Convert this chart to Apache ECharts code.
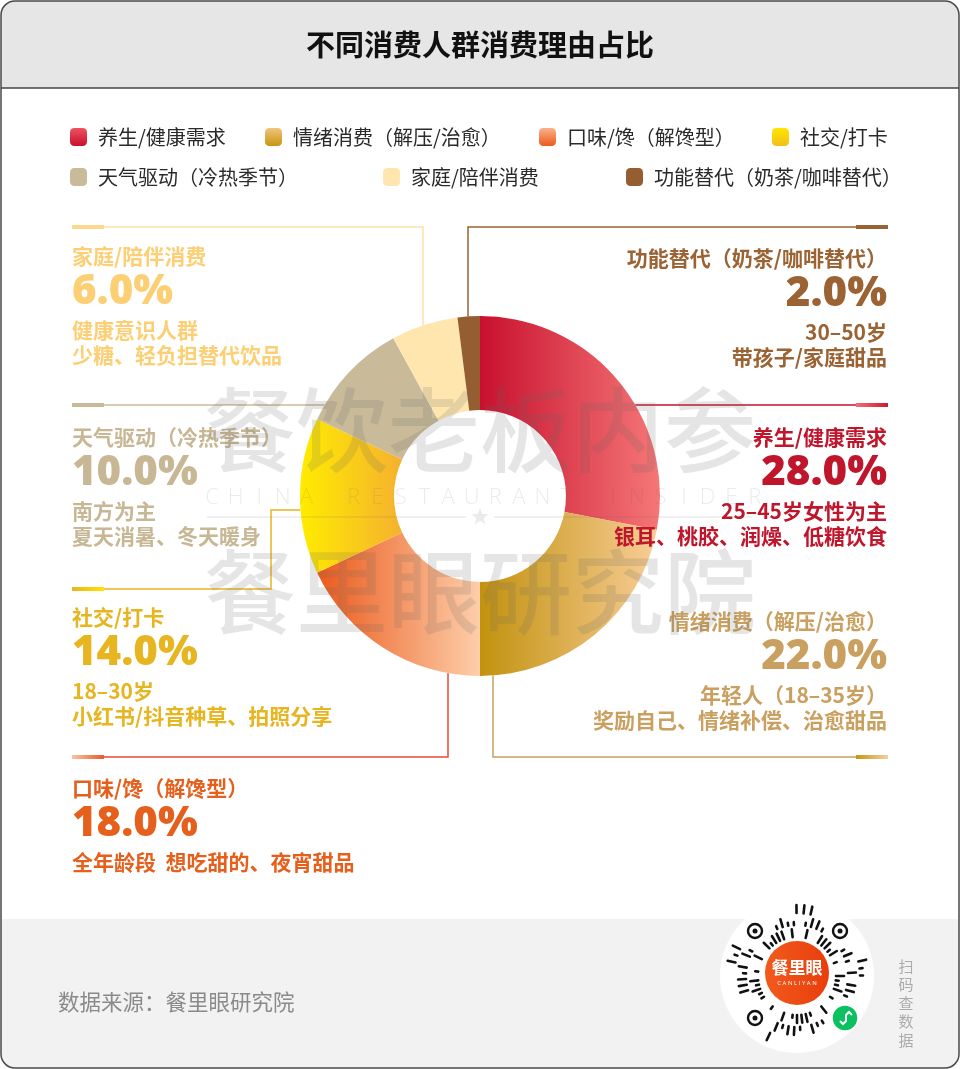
<!DOCTYPE html>
<html>
<head>
<meta charset="utf-8">
<script src="https://cdn.jsdelivr.net/npm/echarts@6/dist/echarts.min.js"></script>
<style>html,body{margin:0;padding:0;background:#fff}#c{width:960px;height:1069px}</style>
</head>
<body>
<div id="c"></div>
<script>
// ---------- data ----------
const chartTitle = '不同消费人群消费理由占比';
const sourceText = '数据来源：餐里眼研究院';
const categories = ['养生/健康需求', '情绪消费（解压/治愈）', '口味/馋（解馋型）', '社交/打卡', '天气驱动（冷热季节）', '家庭/陪伴消费', '功能替代（奶茶/咖啡替代）'];
const values = [28, 22, 18, 14, 10, 6, 2];
const noteLine1 = ['25–45岁女性为主', '年轻人（18–35岁）', '全年龄段  想吃甜的、夜宵甜品', '18–30岁', '南方为主', '健康意识人群', '30–50岁'];
const noteLine2 = ['银耳、桃胶、润燥、低糖饮食', '奖励自己、情绪补偿、治愈甜品', '', '小红书/抖音种草、拍照分享', '夏天消暑、冬天暖身', '少糖、轻负担替代饮品', '带孩子/家庭甜品'];
const wmTop = '餐饮老板内参';
const wmMid = 'CHINA RESTAURANT INSIDER';
const wmBottom = '餐里眼研究院';
const qrHint = '扫码查数据';

// ---------- styles / layout ----------
const CX = 480, CY = 496, R0 = 86, R1 = 180;
const CJK = '"Noto Sans CJK SC", "Noto Sans", sans-serif';
const NUM = '"Open Sans", "Noto Sans", sans-serif';
const sliceGrad = [['#C8102E', '#F57777'], ['#C2920E', '#F8CD97'], ['#EB5A1C', '#FDCEAA'], ['#FFEC00', '#F5B12F'], ['#C9BB99', '#C9BB99'], ['#FEE6AE', '#FEE6AE'], ['#955E30', '#955E30']];
const iconGrad = [['#EE5260', '#C8102E'], ['#EFC47E', '#C8960F'], ['#FBB28A', '#EB5A1C'], ['#FFE600', '#F2BE1A'], ['#C9BB99', '#C9BB99'], ['#FEE6AE', '#FEE6AE'], ['#955E30', '#955E30']];
const textColor = ['#C0162C', '#C9A060', '#E5601C', '#E6B520', '#C8B794', '#FDCF74', '#9B6334'];
const lineColor = ['#C8102E', '#C9A060', '#E84A3C', '#E6B520', '#C9BB99', '#FDE2A6', '#9A6233'];
const thickGrad = [['#F07078', '#CC1A30'], ['#C8960F', '#F5D0A0'], ['#FAC3A0', '#EA5A2A'], ['#E6B520', '#FFE500'], ['#C9BB99', '#C9BB99'], ['#FDD78C', '#FDD78C'], ['#9A6233', '#9A6233']];
const legendPos = [[70, 136], [265, 136], [539, 136], [772, 136], [70, 176], [383, 176], [626, 176]];

function lin(c1, c2, vertical) {
  return { type: 'linear', x: 0, y: 0, x2: vertical ? 0 : 1, y2: vertical ? 1 : 0, colorStops: [{ offset: 0, color: c1 }, { offset: 1, color: c2 }] };
}
const hitX = (y, sign) => CX + sign * Math.sqrt(R1 * R1 - (y - CY) * (y - CY));
const hitY = (x, sign) => CY + sign * Math.sqrt(R1 * R1 - (x - CX) * (x - CX));

// label block layouts (side, title y, leader path)
const LX = 72, RX = 887;
const blocks = [
  { side: 'right', ty: 437, ly: 405, pts: [[888, 405], [hitX(405, 1), 405]] },
  { side: 'right', ty: 621, ly: 757, pts: [[888, 757], [493, 757], [493, hitY(493, 1)]] },
  { side: 'left', ty: 788, ly: 757, pts: [[72, 757], [448, 757], [448, hitY(448, 1)]] },
  { side: 'left', ty: 617, ly: 589, pts: [[72, 589], [271, 589], [271, 510], [hitX(510, -1), 510]] },
  { side: 'left', ty: 437, ly: 405, pts: [[72, 405], [hitX(405, -1), 405]] },
  { side: 'left', ty: 256, ly: 227, pts: [[72, 227], [423, 227], [423, hitY(423, -1)]] },
  { side: 'right', ty: 258, ly: 227, pts: [[888, 227], [468, 227], [468, hitY(468, -1)]] }
];

const g = [];
// frame backgrounds
g.push({ type: 'rect', z: 0, shape: { x: 1, y: 1, width: 958, height: 1067, r: 14 }, style: { fill: '#fff' } });
g.push({ type: 'rect', z: 0, shape: { x: 1, y: 1, width: 958, height: 87, r: [14, 14, 0, 0] }, style: { fill: '#E6E6E6' } });
g.push({ type: 'rect', z: 0, shape: { x: 1, y: 919, width: 958, height: 149, r: [0, 0, 14, 14] }, style: { fill: '#F2F2F2' } });
g.push({ type: 'line', z: 1, shape: { x1: 1, y1: 88, x2: 959, y2: 88 }, style: { stroke: '#444', lineWidth: 1.5 } });
g.push({ type: 'text', z: 5, x: 480, y: 45, style: { text: chartTitle, fill: '#111', font: 'bold 29px ' + CJK, align: 'center', verticalAlign: 'middle', textAlign: 'center', textVerticalAlign: 'middle' } });

// leader lines + label texts
categories.forEach((name, i) => {
  const b = blocks[i];
  g.push({ type: 'polyline', z: 1, shape: { points: b.pts }, style: { stroke: lineColor[i], lineWidth: 1.5, fill: null } });
  const tx = b.side === 'left' ? 72 : 856;
  g.push({ type: 'rect', z: 2, shape: { x: tx, y: b.ly - 2, width: 32, height: 4 }, style: { fill: lin(thickGrad[i][0], thickGrad[i][1], false) } });
  const x = b.side === 'left' ? LX : RX;
  const al = b.side === 'left' ? 'left' : 'right';
  const mk = (text, y, font) => ({ type: 'text', z: 5, x: x, y: y, style: { text: text, fill: textColor[i], font: font, align: al, verticalAlign: 'middle', textAlign: al, textVerticalAlign: 'middle' } });
  g.push(mk(name, b.ty, 'bold 21px ' + CJK));
  g.push(mk(values[i].toFixed(1) + '%', b.ty + 36, '800 42px ' + NUM));
  g.push(mk(noteLine1[i], b.ty + 74, 'bold 21px ' + CJK));
  if (noteLine2[i]) g.push(mk(noteLine2[i], b.ty + 99, 'bold 21px ' + CJK));
});

// watermark
const wmFill = 'rgba(100,100,100,0.17)';
const wmFont = '500 92px ' + CJK;
for (let k = 0; k < 6; k++) {
  g.push({ type: 'text', z: 50, x: 250 + k * 92, y: 430, style: { text: wmTop[k], fill: wmFill, font: wmFont, align: 'center', verticalAlign: 'middle', textAlign: 'center', textVerticalAlign: 'middle' } });
  g.push({ type: 'text', z: 50, x: 250 + k * 92, y: 592, style: { text: wmBottom[k], fill: wmFill, font: wmFont, align: 'center', verticalAlign: 'middle', textAlign: 'center', textVerticalAlign: 'middle' } });
}
for (let k = 0; k < wmMid.length; k++) {
  if (wmMid[k] === ' ') continue;
  g.push({ type: 'text', z: 50, x: 212 + k * 23.6, y: 498, style: { text: wmMid[k], fill: 'rgba(100,100,100,0.13)', font: '300 22px ' + NUM, align: 'center', verticalAlign: 'middle', textAlign: 'center', textVerticalAlign: 'middle' } });
}
g.push({ type: 'line', z: 50, shape: { x1: 207, y1: 517, x2: 466, y2: 517 }, style: { stroke: 'rgba(100,100,100,0.13)', lineWidth: 1.5 } });
g.push({ type: 'line', z: 50, shape: { x1: 494, y1: 517, x2: 752, y2: 517 }, style: { stroke: 'rgba(100,100,100,0.13)', lineWidth: 1.5 } });
const star = [];
for (let k = 0; k < 10; k++) {
  const r = k % 2 === 0 ? 9 : 3.8;
  const a = -Math.PI / 2 + k * Math.PI / 5;
  star.push([480 + r * Math.cos(a), 517 + r * Math.sin(a)]);
}
g.push({ type: 'polygon', z: 50, shape: { points: star }, style: { fill: 'rgba(100,100,100,0.13)' } });

// footer
g.push({ type: 'text', z: 5, x: 58, y: 1002, style: { text: sourceText, fill: '#8a8a8a', font: 'normal 21.5px ' + CJK, align: 'left', verticalAlign: 'middle', textAlign: 'left', textVerticalAlign: 'middle' } });
for (let k = 0; k < qrHint.length; k++) {
  g.push({ type: 'text', z: 5, x: 906, y: 966 + k * 18.5, style: { text: qrHint[k], fill: '#ababab', font: 'normal 15px ' + CJK, align: 'center', verticalAlign: 'middle', textAlign: 'center', textVerticalAlign: 'middle' } });
}
// QR-style badge
const QX = 797, QY = 976;
g.push({ type: 'circle', z: 60, shape: { cx: QX, cy: QY, r: 77 }, style: { fill: '#fff' } });
const finders = [[755, 931], [840, 931], [755, 1018]];
const green = [845, 1018];
const bits = '110101101110010110110100111011010110101110011011010110011101';
const rings = [[39, 47], [51, 59], [63, 71]];
rings.forEach((rg, ri) => {
  for (let k = 0; k < 56; k++) {
    if (bits[(k * 5 + ri * 11) % bits.length] !== '1') continue;
    const a = (k * 360 / 56 + ri * 3) * Math.PI / 180;
    const short = bits[(k * 7 + ri) % bits.length] === '0';
    const r1 = rg[0], r2 = short ? rg[0] + 3 : rg[1];
    const x1 = QX + r1 * Math.cos(a), y1 = QY + r1 * Math.sin(a);
    const x2 = QX + r2 * Math.cos(a), y2 = QY + r2 * Math.sin(a);
    const near = finders.concat([green]).some(p => Math.hypot((x1 + x2) / 2 - p[0], (y1 + y2) / 2 - p[1]) < 17);
    if (near) continue;
    g.push({ type: 'line', z: 61, shape: { x1, y1, x2, y2 }, style: { stroke: '#111', lineWidth: 2.6, lineCap: 'round' } });
  }
});
finders.forEach(p => {
  g.push({ type: 'circle', z: 61, shape: { cx: p[0], cy: p[1], r: 7 }, style: { fill: null, stroke: '#111', lineWidth: 2.4 } });
  g.push({ type: 'circle', z: 61, shape: { cx: p[0], cy: p[1], r: 2.5 }, style: { fill: '#111' } });
});
g.push({ type: 'circle', z: 62, shape: { cx: QX, cy: QY - 3, r: 32 }, style: { fill: lin('#F25A1C', '#E83E0C', false) } });
g.push({ type: 'text', z: 63, x: QX, y: QY - 8, style: { text: '餐里眼', fill: '#fff', font: 'bold 17px ' + CJK, align: 'center', verticalAlign: 'middle', textAlign: 'center', textVerticalAlign: 'middle' } });
g.push({ type: 'text', z: 63, x: QX, y: QY + 7, style: { text: 'C A N L I Y A N', fill: '#fff', font: 'normal 6px ' + NUM, align: 'center', verticalAlign: 'middle', textAlign: 'center', textVerticalAlign: 'middle' } });
g.push({ type: 'circle', z: 62, shape: { cx: green[0], cy: green[1], r: 13 }, style: { fill: '#0BC15F', stroke: '#fff', lineWidth: 1.5 } });
g.push({ type: 'polyline', z: 63, shape: { points: [[green[0] - 5, green[1] + 3], [green[0] - 2, green[1] + 6], [green[0] + 1, green[1] + 3], [green[0] + 1, green[1] - 3], [green[0] + 4, green[1] - 6], [green[0] + 7, green[1] - 3]] }, style: { stroke: '#fff', lineWidth: 2, fill: null } });

// frame border on top
g.push({ type: 'rect', z: 100, shape: { x: 1, y: 1, width: 958, height: 1067, r: 14 }, style: { fill: null, stroke: '#4a4a4a', lineWidth: 1.5 } });

// legends (one per item for exact placement)
const legends = categories.map((name, i) => ({
  data: [{ name: name, itemStyle: { color: lin(iconGrad[i][0], iconGrad[i][1], true) } }],
  left: legendPos[i][0], top: legendPos[i][1] - 9,
  padding: 0, itemWidth: 17, itemHeight: 18, icon: 'roundRect', selectedMode: false,
  textStyle: { fontSize: 20, color: '#2a2a2a', fontFamily: CJK, padding: [0, 0, 0, 6] }
}));

const chart = echarts.init(document.getElementById('c'), null, { renderer: 'canvas' });
chart.setOption({
  backgroundColor: '#ffffff',
  animation: false,
  legend: legends,
  graphic: { elements: g },
  series: [{
    type: 'pie', center: [CX, CY], radius: [R0, R1], startAngle: 90, clockwise: true,
    silent: true, z: 3, label: { show: false }, labelLine: { show: false },
    emphasis: { disabled: true },
    data: categories.map((name, i) => ({ name: name, value: values[i], itemStyle: { color: lin(sliceGrad[i][0], sliceGrad[i][1], false) } }))
  }]
});
</script>
</body>
</html>
